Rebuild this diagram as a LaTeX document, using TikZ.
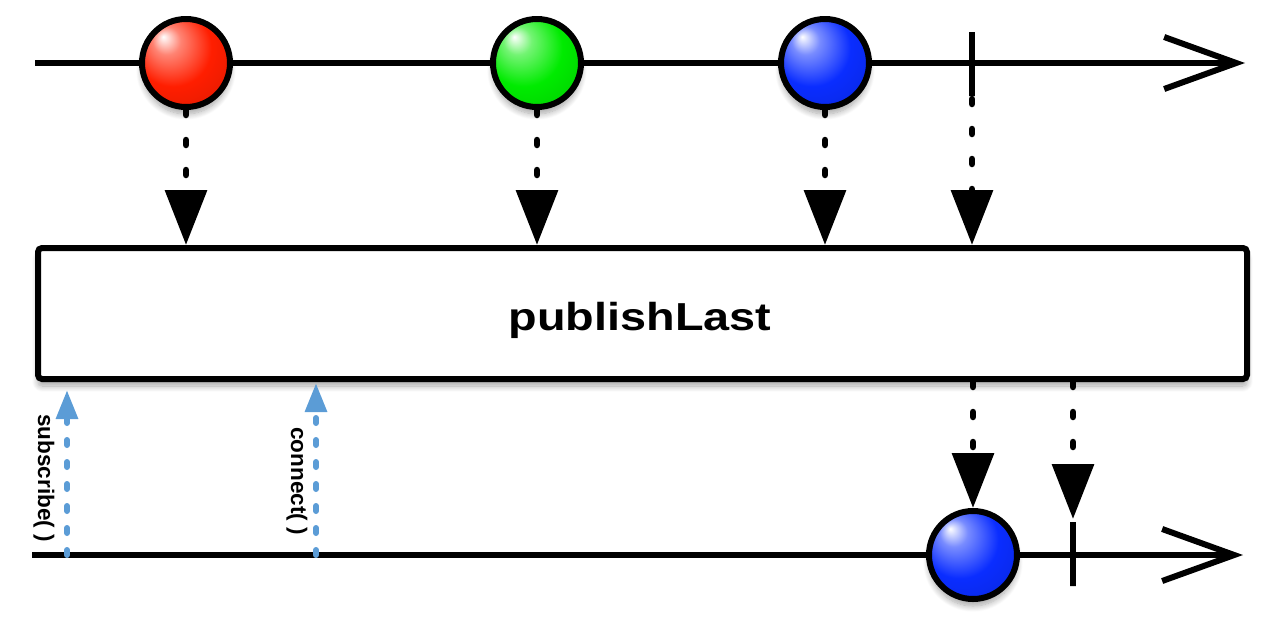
\documentclass[tikz,border=0pt]{standalone}
\usepackage{fontspec}
\setmainfont{Liberation Sans}
\usetikzlibrary{arrows.meta,shadows.blur}
\definecolor{rxblue}{RGB}{91,156,214}
\definecolor{mred}{RGB}{255,30,0}
\definecolor{mgreen}{RGB}{0,235,0}
\definecolor{mblue}{RGB}{10,45,255}
\pgfdeclareradialshading{redmarble}{\pgfqpoint{-13bp}{15bp}}{color(0bp)=(white); color(8bp)=(mred!55!white); color(22bp)=(mred); color(38bp)=(mred!88!black); color(52bp)=(mred!55!black)}
\pgfdeclareradialshading{greenmarble}{\pgfqpoint{-13bp}{15bp}}{color(0bp)=(white); color(8bp)=(mgreen!55!white); color(22bp)=(mgreen); color(38bp)=(mgreen!88!black); color(52bp)=(mgreen!55!black)}
\pgfdeclareradialshading{bluemarble}{\pgfqpoint{-13bp}{15bp}}{color(0bp)=(white); color(8bp)=(mblue!55!white); color(22bp)=(mblue); color(38bp)=(mblue!88!black); color(52bp)=(mblue!55!black)}
\begin{document}
\begin{tikzpicture}[x=1pt,y=-1pt,
  softshadow/.style={blur shadow={shadow xshift=0pt, shadow yshift=-7pt, shadow blur radius=6pt, shadow blur steps=10, shadow opacity=35}},
  axis/.style={line width=6pt, -{Straight Barb[length=72pt,width=52pt]}},
  marble/.style={circle, draw=black, line width=6pt, minimum size=88pt, inner sep=0pt, softshadow},
  tickmark/.style={draw=black, fill=black, line width=6pt, minimum width=0pt, minimum height=64pt, inner sep=0pt},
  opbox/.style={draw=black, fill=white, line width=6pt, rounded corners=4pt, minimum width=1209pt, minimum height=131pt, inner sep=0pt, softshadow},
  dotarrow/.style={line width=6.5pt, line cap=round, dash pattern=on 5pt off 25pt, -{Triangle[length=55pt,width=41pt]}},
  callarrow/.style={draw=rxblue, line width=6pt, line cap=round, dash pattern=on 5pt off 17pt, -{Triangle[length=29pt,width=21pt]}},
  lbl/.style={font=\bfseries\fontsize{22.5}{26}\selectfont, inner sep=0pt, rotate=-90},
  optext/.style={font=\bfseries\fontsize{39}{47}\selectfont, inner sep=0pt}
]
\useasboundingbox (0,0) rectangle (1280,630);

% top axis
\coordinate (a0) at (35,63);
\coordinate (a1) at (1245,63);
\draw[axis] (a0) -- (a1);

% bottom axis
\coordinate (b0) at (32,555);
\coordinate (b1) at (1243,555);
\draw[axis] (b0) -- (b1);

% operator box
\node[opbox] (pl) at (642.5,313.5) {};
\node[optext] (plt) at (640,320) {\scalebox{1.2}[1]{publishLast}};

% top marbles and tick
\node[marble, shading=redmarble] (r) at (186,63) {};
\node[marble, shading=greenmarble] (g) at (537,63) {};
\node[marble, shading=bluemarble] (bl) at (825,63) {};
\node[tickmark] (t1) at (972,64) {};

% bottom marble and tick
\node[marble, shading=bluemarble] (ob) at (973,555) {};
\node[tickmark] (t2) at (1073,554) {};

% dotted arrows into the operator
\draw[dotarrow] (r.south) -- (r.south |- pl.north);
\draw[dotarrow] (g.south) -- (g.south |- pl.north);
\draw[dotarrow] (bl.south) -- (bl.south |- pl.north);
\draw[dotarrow] (t1.south) -- (t1.south |- pl.north);

% dotted arrows out of the operator
\draw[dotarrow] (pl.south -| ob.north) -- (ob.north);
\draw[dotarrow] (pl.south -| t2.north) -- (t2.north);

% subscribe / connect calls
\coordinate (sub) at (67,555);
\coordinate (con) at (316,555);
\draw[callarrow, shorten >=8pt] (sub) -- (sub |- pl.south);
\draw[callarrow, shorten >=1pt] (con) -- (con |- pl.south);
\node[lbl] (subl) at (44,478) {subscribe( )};
\node[lbl] (conl) at (297,481) {connect( )};
\end{tikzpicture}
\end{document}
